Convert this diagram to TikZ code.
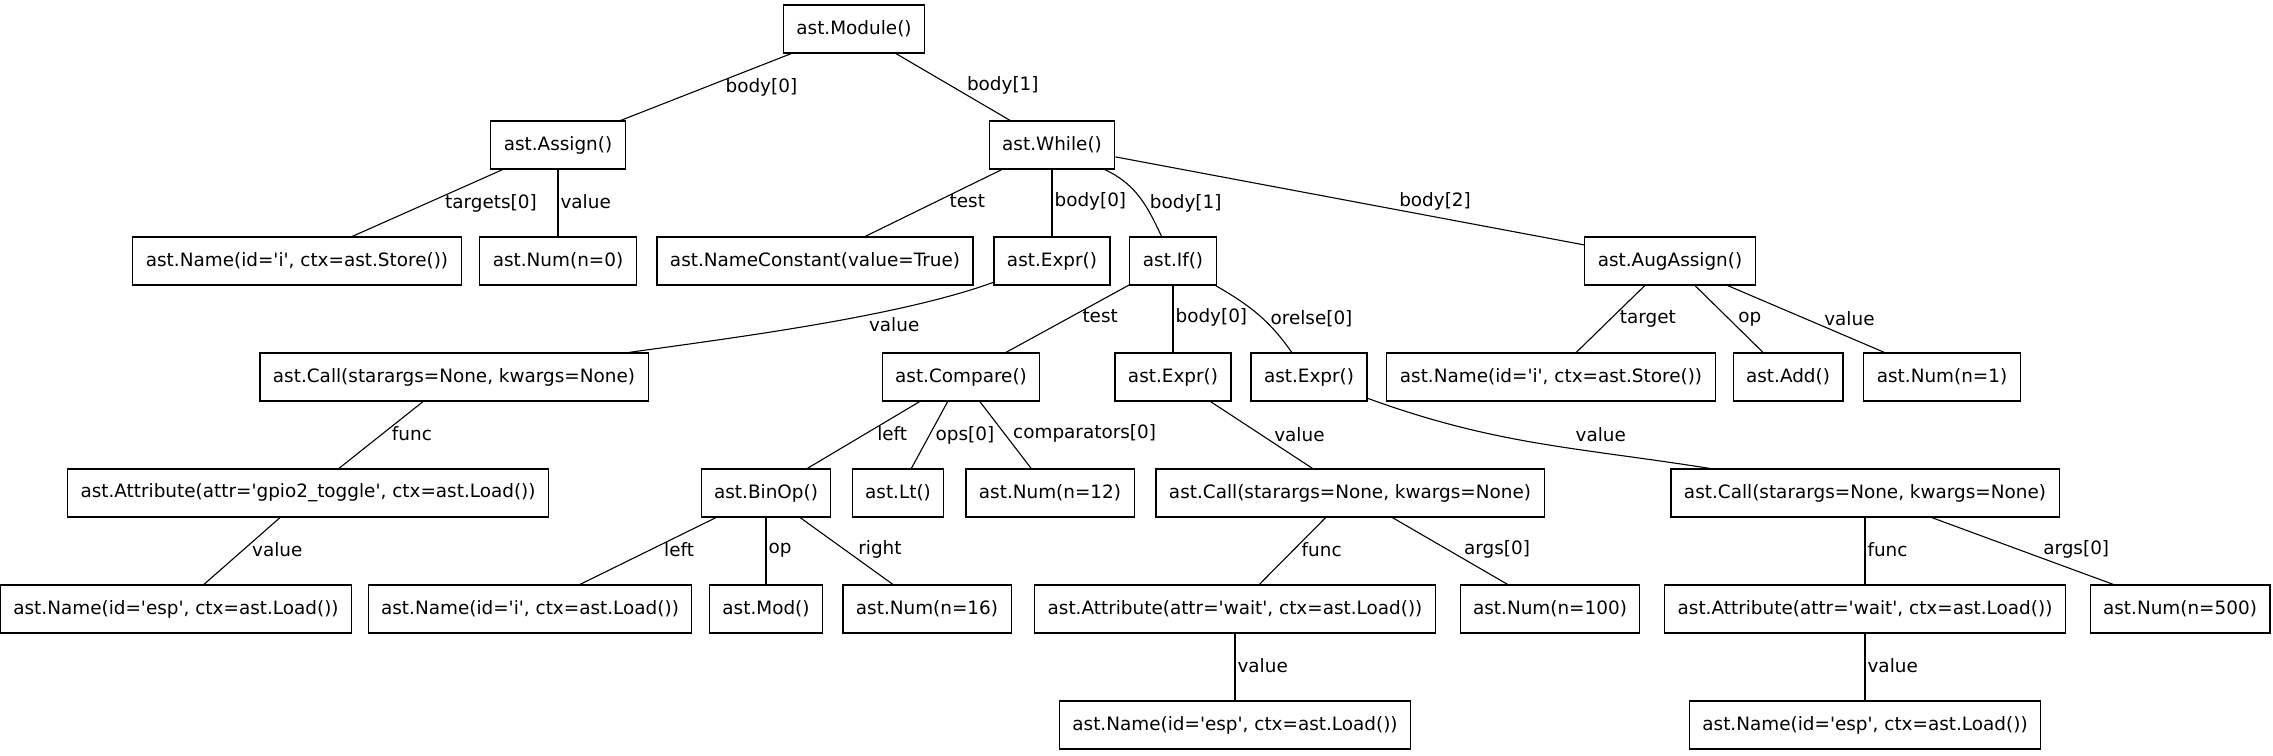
\documentclass[tikz,border=0pt]{standalone}
\usepackage{fontspec}
\newfontfamily\astfont{DejaVu Sans}
\usetikzlibrary{positioning}

\begin{document}
\begin{tikzpicture}[
  x=0.5pt,y=-0.5pt,
  astnode/.style={draw,line width=0.55pt,font=\astfont\fontsize{9.2}{11}\selectfont,minimum height=24pt,inner xsep=6.5pt,inner ysep=0pt},
  link/.style={draw,line width=0.55pt},
  lbl/.style={font=\astfont\fontsize{9.2}{11}\selectfont,inner sep=1pt},
  lblL/.style={lbl,pos=0.4,anchor=north west,yshift=2.2pt},
  lblR/.style={lbl,pos=0.6,anchor=south west,yshift=-1.5pt},
  lblV/.style={lbl,pos=0.5,anchor=west,yshift=0.6pt}
]
\useasboundingbox (0,0) rectangle (2273,755);
% rank 0 - 2
\node[astnode] (module) at (854,29) {ast.Module()};
\node[astnode] (assign) at (558,145) {ast.Assign()};
\node[astnode] (while) at (1052,145) {ast.While()};
\node[astnode] (nameIStoreA) at (297,261) {ast.Name(id='i', ctx=ast.Store())};
\node[astnode] (numZero) at (558,261) {ast.Num(n=0)};
\node[astnode] (nameConst) at (815,261) {ast.NameConstant(value=True)};
\node[astnode] (exprA) at (1052,261) {ast.Expr()};
\node[astnode] (ifNode) at (1173,261) {ast.If()};
\node[astnode] (augAssign) at (1670,261) {ast.AugAssign()};
% rank 3
\node[astnode] (callA) at (454,377) {ast.Call(starargs=None, kwargs=None)};
\node[astnode] (compare) at (961,377) {ast.Compare()};
\node[astnode] (exprB) at (1173,377) {ast.Expr()};
\node[astnode] (exprC) at (1309,377) {ast.Expr()};
\node[astnode] (nameIStoreB) at (1551,377) {ast.Name(id='i', ctx=ast.Store())};
\node[astnode] (add) at (1788,377) {ast.Add()};
\node[astnode] (numOne) at (1942,377) {ast.Num(n=1)};
% rank 4
\node[astnode] (attrGpio) at (308,493) {ast.Attribute(attr='gpio2\_toggle', ctx=ast.Load())};
\node[astnode] (binOp) at (766,493) {ast.BinOp()};
\node[astnode] (lt) at (898,493) {ast.Lt()};
\node[astnode] (numTwelve) at (1050,493) {ast.Num(n=12)};
\node[astnode] (callB) at (1350,493) {ast.Call(starargs=None, kwargs=None)};
\node[astnode] (callC) at (1865,493) {ast.Call(starargs=None, kwargs=None)};
% rank 5 - 6
\node[astnode] (nameEspA) at (176,609) {ast.Name(id='esp', ctx=ast.Load())};
\node[astnode] (nameILoad) at (530,609) {ast.Name(id='i', ctx=ast.Load())};
\node[astnode] (mod) at (766,609) {ast.Mod()};
\node[astnode] (numSixteen) at (927,609) {ast.Num(n=16)};
\node[astnode] (attrWaitB) at (1235,609) {ast.Attribute(attr='wait', ctx=ast.Load())};
\node[astnode] (numHundred) at (1550,609) {ast.Num(n=100)};
\node[astnode] (attrWaitC) at (1865,609) {ast.Attribute(attr='wait', ctx=ast.Load())};
\node[astnode] (numFiveHundred) at (2180,609) {ast.Num(n=500)};
\node[astnode] (nameEspB) at (1235,725) {ast.Name(id='esp', ctx=ast.Load())};
\node[astnode] (nameEspC) at (1865,725) {ast.Name(id='esp', ctx=ast.Load())};

\draw[link] (module) -- node[lblL] {body[0]} (assign);
\draw[link] (module) -- node[lblR] {body[1]} (while);
\draw[link] (assign) -- node[lblL] {targets[0]} (nameIStoreA);
\draw[link] (assign) -- node[lblV] {value} (numZero);
\draw[link] (while) -- node[lblL] {test} (nameConst);
\draw[link] (while) -- node[lblV] {body[0]} (exprA);
\draw[link] (while) to[out=-25,in=115] node[lbl,pos=0.5,anchor=west,xshift=4pt,yshift=-3.5pt] {body[1]} (ifNode);
\draw[link] (while) -- node[lblR] {body[2]} (augAssign);
\draw[link] (exprA) to[out=-160,in=8,looseness=0.7] node[lbl,pos=0.365,anchor=north west,yshift=0.3pt] {value} (callA);
\draw[link] (ifNode) -- node[lblL] {test} (compare);
\draw[link] (ifNode) -- node[lblV] {body[0]} (exprB);
\draw[link] (ifNode) to[out=-30,in=125] node[lbl,pos=0.5,anchor=west,xshift=5pt,yshift=-2.2pt] {orelse[0]} (exprC);
\draw[link] (augAssign) -- node[lblL] {target} (nameIStoreB);
\draw[link] (augAssign) -- node[lblR] {op} (add);
\draw[link] (augAssign) -- node[lblR] {value} (numOne);
\draw[link] (callA) -- node[lblL] {func} (attrGpio);
\draw[link] (compare) -- node[lblL] {left} (binOp);
\draw[link] (compare) -- node[lblL] {ops[0]} (lt);
\draw[link] (compare) -- node[lblR] {comparators[0]} (numTwelve);
\draw[link] (exprB) -- node[lblR] {value} (callB);
\draw[link] (exprC) to[out=-20,in=171] node[lbl,pos=0.6,anchor=south west,xshift=2.5pt,yshift=2pt] {value} (callC);
\draw[link] (attrGpio) -- node[lblL] {value} (nameEspA);
\draw[link] (binOp) -- node[lblL] {left} (nameILoad);
\draw[link] (binOp) -- node[lblV] {op} (mod);
\draw[link] (binOp) -- node[lblR] {right} (numSixteen);
\draw[link] (callB) -- node[lblL] {func} (attrWaitB);
\draw[link] (callB) -- node[lblR] {args[0]} (numHundred);
\draw[link] (callC) -- node[lblV] {func} (attrWaitC);
\draw[link] (callC) -- node[lblR] {args[0]} (numFiveHundred);
\draw[link] (attrWaitB) -- node[lblV] {value} (nameEspB);
\draw[link] (attrWaitC) -- node[lblV] {value} (nameEspC);
\end{tikzpicture}
\end{document}
